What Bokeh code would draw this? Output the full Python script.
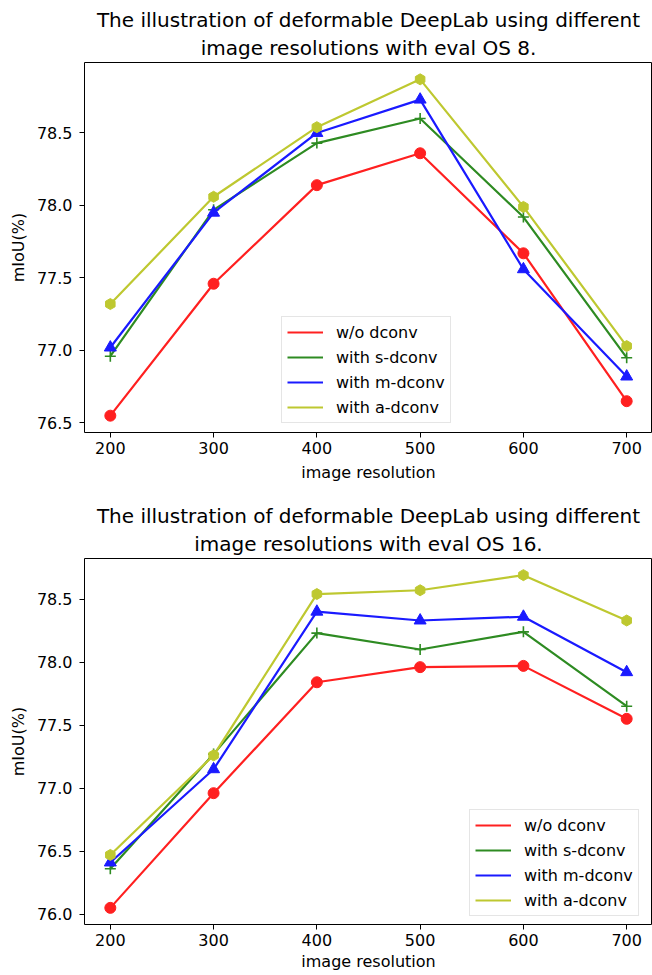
import numpy as np
from bokeh.plotting import figure
from bokeh.layouts import column
from bokeh.models import (Range1d, FixedTicker, PrintfTickFormatter, Legend,
                          LegendItem, Title)
from bokeh.embed import file_html
from bokeh.resources import INLINE

resolutions = [200, 300, 400, 500, 600, 700]
series_names = ["w/o dconv", "with s-dconv", "with m-dconv", "with a-dconv"]

# eval OS 8
os8_wo = [76.55, 77.46, 78.14, 78.36, 77.67, 76.65]
os8_s = [76.96, 77.97, 78.43, 78.60, 77.92, 76.95]
os8_m = [77.02, 77.95, 78.50, 78.73, 77.56, 76.82]
os8_a = [77.32, 78.06, 78.54, 78.87, 77.99, 77.03]

# eval OS 16
os16_wo = [76.05, 76.96, 77.84, 77.96, 77.97, 77.55]
os16_s = [76.36, 77.27, 78.23, 78.10, 78.24, 77.65]
os16_m = [76.41, 77.15, 78.40, 78.33, 78.36, 77.92]
os16_a = [76.47, 77.26, 78.54, 78.57, 78.69, 78.33]

x_ticks = [200, 300, 400, 500, 600, 700]
y_ticks_os8 = [76.5, 77.0, 77.5, 78.0, 78.5]
y_ticks_os16 = [76.0, 76.5, 77.0, 77.5, 78.0, 78.5]

title_os8 = ["The illustration of deformable DeepLab using different",
             "image resolutions with eval OS 8."]
title_os16 = ["The illustration of deformable DeepLab using different",
              "image resolutions with eval OS 16."]

colors = ["#ff2020", "#2e8b22", "#1a1aff", "#bec830"]
markers = ["circle", "cross", "triangle", "hex"]
msizes = [11, 11, 12, 11]
FONT = "DejaVu Sans"


def padded(vals, frac=0.05):
    lo, hi = min(vals), max(vals)
    d = (hi - lo) * frac
    return lo - d, hi + d


def make_fig(series, yticks, title_lines, height, top, bottom, legend_loc,
             xlab_standoff):
    allv = [v for s in series for v in s]
    xlo, xhi = padded(resolutions)
    ylo, yhi = padded(allv)
    p = figure(width=652, height=height, output_backend="svg",
               toolbar_location=None, x_range=Range1d(xlo, xhi),
               y_range=Range1d(ylo, yhi),
               min_border_left=84, min_border_right=0,
               min_border_top=top, min_border_bottom=bottom)
    p.title = None
    # second line first: later-added titles stack further from the frame
    for txt, so in ((title_lines[1], 5), (title_lines[0], 0)):
        p.add_layout(Title(text=txt, align="center", text_font=FONT,
                           text_font_size="20px", text_font_style="normal",
                           text_color="black", standoff=so), "above")
    p.grid.visible = False
    p.outline_line_color = "black"
    p.outline_line_width = 1
    p.background_fill_color = "white"
    p.border_fill_color = "white"

    for ax in (p.xaxis[0], p.yaxis[0]):
        ax.axis_line_color = None
        ax.major_tick_line_color = "black"
        ax.major_tick_in = 0
        ax.major_tick_out = 5
        ax.minor_tick_line_color = None
        ax.major_label_text_font = FONT
        ax.major_label_text_font_size = "16px"
        ax.major_label_text_color = "black"
        ax.axis_label_text_font = FONT
        ax.axis_label_text_font_size = "16px"
        ax.axis_label_text_font_style = "normal"
        ax.axis_label_text_color = "black"
    p.xaxis.ticker = FixedTicker(ticks=x_ticks)
    p.yaxis.ticker = FixedTicker(ticks=yticks)
    p.yaxis.formatter = PrintfTickFormatter(format="%.1f")
    p.xaxis.axis_label = "image resolution"
    p.yaxis.axis_label = "mIoU(%)"
    p.xaxis.major_label_standoff = 4
    p.xaxis.axis_label_standoff = xlab_standoff
    p.yaxis.major_label_standoff = 7
    p.yaxis.axis_label_standoff = 6

    items = []
    for s, name, c, m, ms in zip(series, series_names, colors, markers, msizes):
        r = p.line(resolutions, s, line_color=c, line_width=2.2)
        if m == "hex":
            p.scatter(resolutions, s, marker=m, size=ms, fill_color=c,
                      line_color=c, angle=np.pi / 6)
        elif m == "cross":
            p.scatter(resolutions, s, marker=m, size=ms, line_color=c,
                      line_width=1.6)
        else:
            p.scatter(resolutions, s, marker=m, size=ms, fill_color=c,
                      line_color=c)
        items.append(LegendItem(label=name, renderers=[r]))

    leg = Legend(items=items, location=legend_loc, margin=0, padding=5,
                 spacing=5, glyph_width=36, glyph_height=20, label_height=20,
                 label_standoff=13, label_text_font=FONT,
                 label_text_font_size="16px", label_text_color="black",
                 border_line_color="#cccccc", border_line_width=1,
                 background_fill_color="white", background_fill_alpha=0.8)
    p.add_layout(leg, "center")
    return p


p1 = make_fig([os8_wo, os8_s, os8_m, os8_a], y_ticks_os8, title_os8,
              501, 62, 69, (197, 9), 6)
p2 = make_fig([os16_wo, os16_s, os16_m, os16_a], y_ticks_os16, title_os16,
              474, 54, 51, (385, 8), 3)

layout = column(p1, p2, spacing=0)
open("out.html", "w").write(file_html(layout, INLINE))
